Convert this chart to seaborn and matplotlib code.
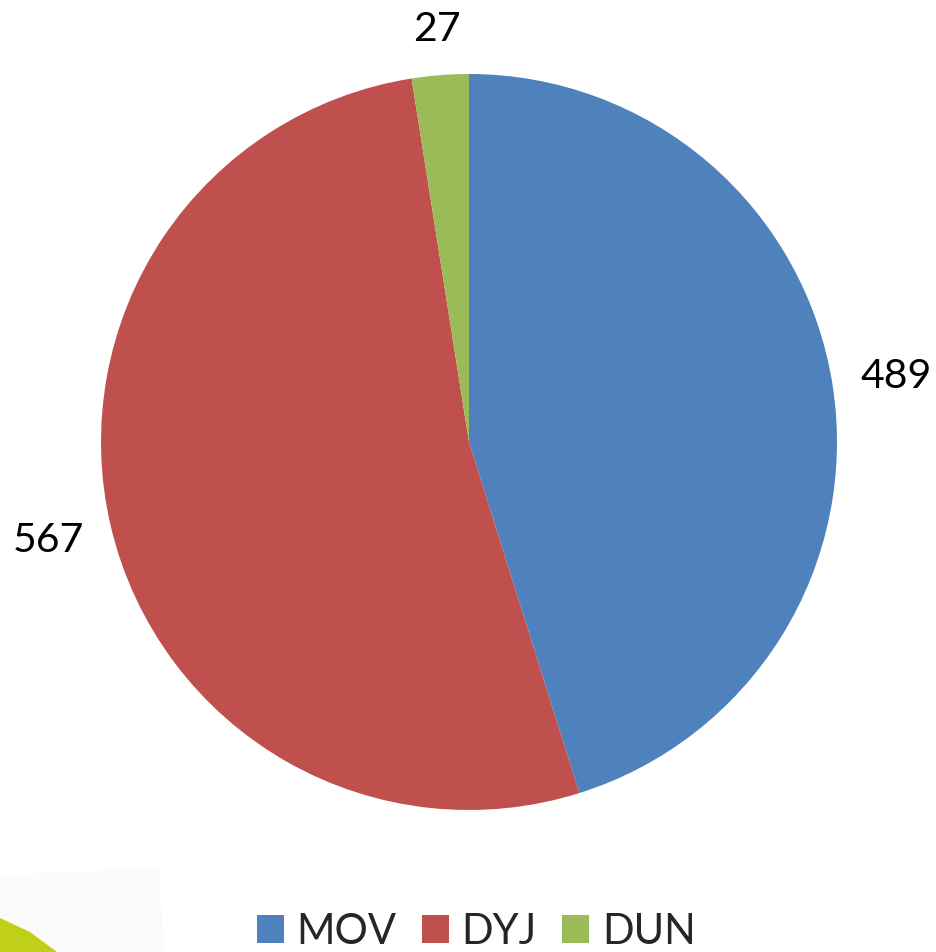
import matplotlib
matplotlib.use("Agg")
import matplotlib.pyplot as plt
from matplotlib.patches import Polygon
import seaborn as sns

categories = ["MOV", "DYJ", "DUN"]
values = [489, 567, 27]
colors = ["#4F81BD", "#C0504D", "#9BBB59"]

sns.set_style("white")
plt.rcParams['font.family'] = ['Lato', 'DejaVu Sans']

W, H = 937, 952
fig = plt.figure(figsize=(W / 100, H / 100), dpi=100)

# decorative background corner
fig.patches.append(Polygon([(0, 1 - 875 / H), (160 / W, 1 - 868 / H), (163 / W, 0), (0, 0)],
                           closed=True, transform=fig.transFigure, facecolor="#FBFBFB",
                           edgecolor="none", zorder=0))
fig.patches.append(Polygon([(0, 1 - 918 / H), (30 / W, 1 - 932 / H), (57 / W, 0), (0, 0)],
                           closed=True, transform=fig.transFigure, facecolor="#BFCF1A",
                           edgecolor="none", zorder=0))

ax = fig.add_axes([469 / W - 368 / W, 1 - 442 / H - 368 / H, 736 / W, 736 / H])
wedges, texts, autotexts = ax.pie(
    values, colors=colors, startangle=90, counterclock=False,
    autopct=lambda p: f"{round(p * sum(values) / 100):d}", pctdistance=1.175,
    textprops=dict(fontsize=29.5, color="black"),
    wedgeprops=dict(linewidth=0),
)
# smallest label sits slightly closer
x, y = autotexts[2].get_position()
autotexts[2].set_position((x * 1.11 / 1.175, y * 1.125 / 1.175))
ax.set_xlim(-1, 1)
ax.set_ylim(-1, 1)
ax.set_aspect("equal")
ax.axis("off")

fig.legend(wedges, categories, loc="center", bbox_to_anchor=(476 / W, 1 - 932 / H),
           ncol=3, frameon=False, fontsize=30, handlelength=0.66, handleheight=0.66,
           handletextpad=0.3, columnspacing=0.6, borderpad=0)

fig.savefig("out.png", dpi=100)
